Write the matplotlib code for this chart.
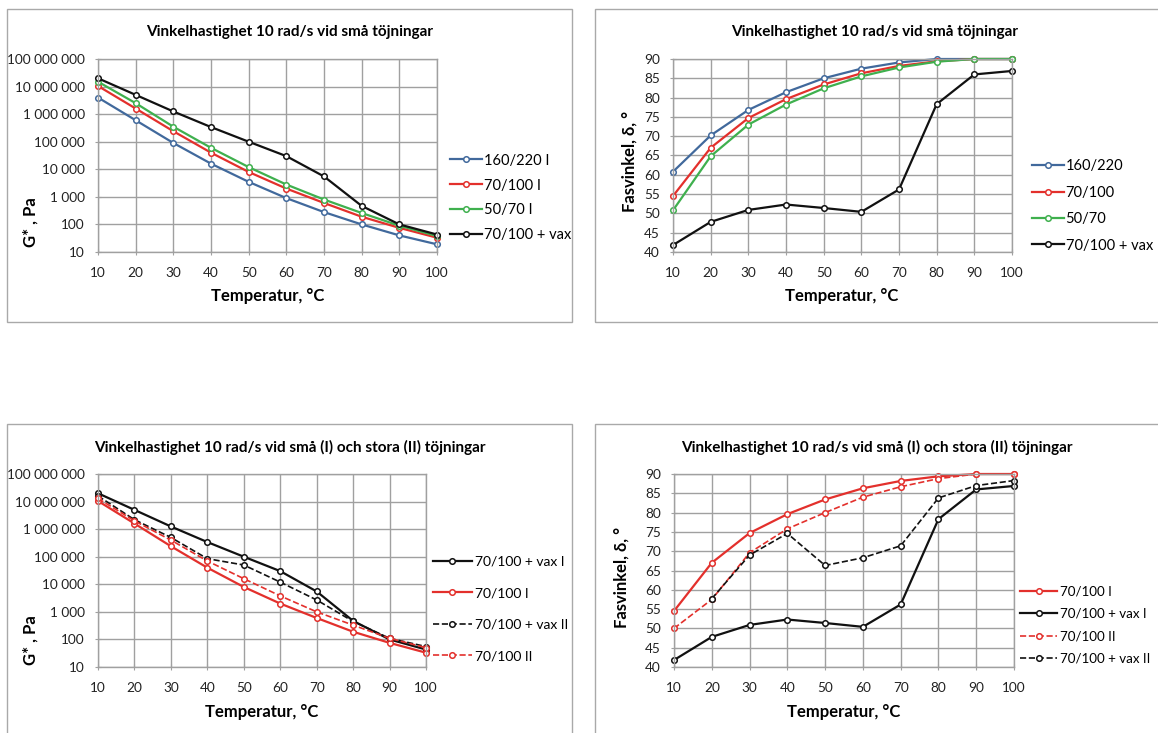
import numpy as np
import matplotlib
matplotlib.use('Agg')
from matplotlib import pyplot as plt
from matplotlib.patches import Rectangle
from matplotlib.ticker import FuncFormatter, FixedLocator

plt.rcParams['font.family'] = ['Lato', 'DejaVu Sans']

W, H = 1158, 733

temp = [10, 20, 30, 40, 50, 60, 70, 80, 90, 100]

# G*, Pa - small strains (I)
g_160_220_I = [4.0e6, 6.0e5, 9.0e4, 1.6e4, 3.5e3, 900, 280, 100, 40, 19]
g_70_100_I = [1.05e7, 1.6e6, 2.4e5, 4.0e4, 8.0e3, 2.0e3, 600, 190, 75, 33]
g_50_70_I = [1.5e7, 2.5e6, 3.5e5, 6.0e4, 1.2e4, 2.8e3, 800, 260, 90, 38]
g_vax_I = [2.0e7, 5.0e6, 1.25e6, 3.4e5, 1.0e5, 3.0e4, 5.5e3, 470, 100, 43]
# G*, Pa - large strains (II)
g_70_100_II = [1.3e7, 2.0e6, 4.0e5, 7.0e4, 1.6e4, 3.8e3, 1.0e3, 330, 110, 50]
g_vax_II = [1.6e7, 2.2e6, 5.0e5, 8.5e4, 5.0e4, 1.2e4, 2.7e3, 450, 110, 55]

# phase angle, degrees
d_160_220 = [60.8, 70.2, 76.8, 81.4, 85.0, 87.5, 89.1, 90.0, 90.0, 90.0]
d_70_100 = [54.5, 67.0, 74.7, 79.6, 83.4, 86.3, 88.2, 89.4, 90.0, 90.0]
d_50_70 = [50.8, 64.8, 73.0, 78.2, 82.4, 85.5, 87.8, 89.3, 90.0, 90.0]
d_vax = [41.8, 47.8, 50.9, 52.3, 51.4, 50.4, 56.2, 78.3, 86.0, 86.9]
d_70_100_II = [50.0, 57.5, 69.6, 75.8, 80.0, 84.0, 86.7, 88.8, 90.0, 90.0]
d_vax_II = [np.nan, 57.7, 69.0, 74.6, 66.3, 68.3, 71.4, 83.8, 87.0, 88.3]

g_ticks = [10, 100, 1e3, 1e4, 1e5, 1e6, 1e7, 1e8]
d_ticks = [40, 45, 50, 55, 60, 65, 70, 75, 80, 85, 90]

BLUE = '#41699c'
RED = '#e3302c'
GREEN = '#3fb04e'
BLACK = '#111111'

title_small = 'Vinkelhastighet 10 rad/s vid små töjningar'
title_both = 'Vinkelhastighet 10 rad/s vid små (I) och stora (II) töjningar'

fig = plt.figure(figsize=(W / 100, H / 100), dpi=100)


def fx(px):
    return px / W


def fy(py):
    return 1 - py / H


def frame(l, t, r, b):
    fig.patches.append(Rectangle((fx(l), fy(b)), fx(r) - fx(l), fy(t) - fy(b),
                                 transform=fig.transFigure, fill=False,
                                 edgecolor='#a9a9a9', lw=1.0))


def make_axes(l, t, r, b):
    ax = fig.add_axes([fx(l), fy(b), fx(r) - fx(l), fy(t) - fy(b)])
    ax.grid(True, color='#a0a0a0', lw=1.0)
    ax.set_axisbelow(True)
    for s in ax.spines.values():
        s.set_color('#a0a0a0')
        s.set_linewidth(1.0)
    ax.set_xlim(10, 100)
    ax.set_xticks(temp)
    ax.tick_params(direction='inout', length=5, color='#a0a0a0',
                   labelsize=9.8, labelcolor='#222222')
    ax.tick_params(axis='x', pad=8)
    ax.tick_params(axis='y', pad=7)
    return ax


def thousands(v, pos):
    return '{:,.0f}'.format(v).replace(',', ' ')


def series(ax, y, color, label, ls='-', lw=1.6):
    ax.plot(temp, y, ls=ls, color=color, lw=lw, marker='o', ms=4,
            mfc='white', mec=color, mew=1.1, label=label, clip_on=False)


def g_axes(ax):
    ax.set_yscale('log')
    ax.set_ylim(10, 1e8)
    ax.yaxis.set_major_locator(FixedLocator(g_ticks))
    ax.yaxis.set_minor_locator(FixedLocator([]))
    ax.yaxis.set_major_formatter(FuncFormatter(thousands))


def d_axes(ax):
    ax.set_ylim(40, 90)
    ax.set_yticks(d_ticks)


TFS = 11
LFS = 12
LEGFS = 10.5

# top left
frame(7, 9, 572, 322)
ax1 = make_axes(98, 59, 437, 252)
g_axes(ax1)
series(ax1, g_160_220_I, BLUE, '160/220 I')
series(ax1, g_70_100_I, RED, '70/100 I')
series(ax1, g_50_70_I, GREEN, '50/70 I')
series(ax1, g_vax_I, BLACK, '70/100 + vax')
fig.text(fx(290), fy(32), title_small, ha='center', va='center', fontsize=TFS, fontweight='bold')
fig.text(fx(268), fy(296), 'Temperatur, °C', ha='center', va='center', fontsize=LFS, fontweight='bold')
fig.text(fx(31), fy(222), 'G* , Pa', ha='center', va='center', rotation=90, fontsize=LFS, fontweight='bold')
ax1.legend(loc='center left', bbox_to_anchor=(fx(450), fy(198)), bbox_transform=fig.transFigure,
           frameon=False, fontsize=LEGFS, handlelength=2.2, handletextpad=0.1,
           labelspacing=0.75, borderpad=0, borderaxespad=0)

# top right
frame(595, 9, 1170, 322)
ax2 = make_axes(673, 59, 1012, 252)
d_axes(ax2)
series(ax2, d_160_220, BLUE, '160/220')
series(ax2, d_70_100, RED, '70/100')
series(ax2, d_50_70, GREEN, '50/70')
series(ax2, d_vax, BLACK, '70/100 + vax')
fig.text(fx(875), fy(32), title_small, ha='center', va='center', fontsize=TFS, fontweight='bold')
fig.text(fx(842), fy(296), 'Temperatur, °C', ha='center', va='center', fontsize=LFS, fontweight='bold')
fig.text(fx(630), fy(161), 'Fasvinkel, δ, °', ha='center', va='center', rotation=90, fontsize=LFS, fontweight='bold')
ax2.legend(loc='center left', bbox_to_anchor=(fx(1032), fy(206)), bbox_transform=fig.transFigure,
           frameon=False, fontsize=LEGFS, handlelength=2.2, handletextpad=0.1,
           labelspacing=0.85, borderpad=0, borderaxespad=0)

# bottom left
frame(7, 424, 572, 745)
ax3 = make_axes(98, 474, 426, 667)
g_axes(ax3)
series(ax3, g_vax_I, BLACK, '70/100 + vax I')
series(ax3, g_70_100_I, RED, '70/100 I')
series(ax3, g_vax_II, BLACK, '70/100 + vax II', ls='--', lw=1.2)
series(ax3, g_70_100_II, RED, '70/100 II', ls='--', lw=1.2)
fig.text(fx(290), fy(447), title_both, ha='center', va='center', fontsize=TFS, fontweight='bold')
fig.text(fx(262), fy(712), 'Temperatur, °C', ha='center', va='center', fontsize=LFS, fontweight='bold')
fig.text(fx(31), fy(640), 'G* , Pa', ha='center', va='center', rotation=90, fontsize=LFS, fontweight='bold')
ax3.legend(loc='center left', bbox_to_anchor=(fx(433), fy(609)), bbox_transform=fig.transFigure,
           frameon=False, fontsize=10, handlelength=2.8, handletextpad=0.25,
           labelspacing=1.4, borderpad=0, borderaxespad=0)

# bottom right
frame(595, 424, 1170, 745)
ax4 = make_axes(674, 474, 1014, 667)
d_axes(ax4)
series(ax4, d_70_100, RED, '70/100 I')
series(ax4, d_vax, BLACK, '70/100 + vax I')
series(ax4, d_70_100_II, RED, '70/100 II', ls='--', lw=1.2)
series(ax4, d_vax_II, BLACK, '70/100 + vax II', ls='--', lw=1.2)
fig.text(fx(877), fy(447), title_both, ha='center', va='center', fontsize=TFS, fontweight='bold')
fig.text(fx(844), fy(712), 'Temperatur, °C', ha='center', va='center', fontsize=LFS, fontweight='bold')
fig.text(fx(622), fy(577), 'Fasvinkel, δ, °', ha='center', va='center', rotation=90, fontsize=LFS, fontweight='bold')
ax4.legend(loc='center left', bbox_to_anchor=(fx(1020), fy(625)), bbox_transform=fig.transFigure,
           frameon=False, fontsize=9.6, handlelength=2.8, handletextpad=0.2,
           labelspacing=0.78, borderpad=0, borderaxespad=0)

fig.savefig('out.png', dpi=100)
